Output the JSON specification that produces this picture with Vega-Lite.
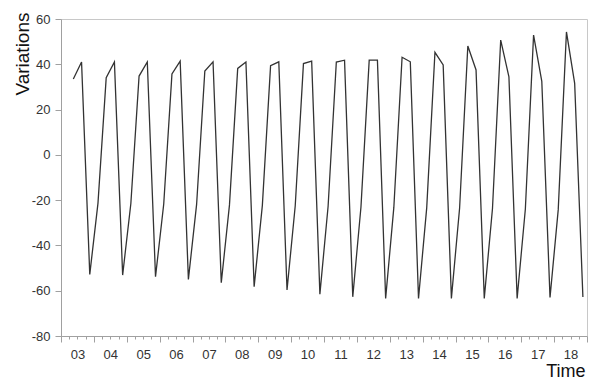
{
  "$schema": "https://vega.github.io/schema/vega-lite/v6.json",
  "width": 526,
  "height": 317,
  "autosize": "none",
  "padding": {"left": 61, "top": 19, "right": 5, "bottom": 43},
  "background": "white",
  "config": {
    "view": {"stroke": "#c8c8c8", "strokeWidth": 1},
    "font": "Liberation Sans"
  },
  "data": {
    "values": [
      {"t": 2003.375, "v": 33.5}, {"t": 2003.625, "v": 41.0}, {"t": 2003.875, "v": -52.8},
      {"t": 2004.125, "v": -21.3}, {"t": 2004.375, "v": 34.1}, {"t": 2004.625, "v": 41.0}, {"t": 2004.875, "v": -53.1},
      {"t": 2005.125, "v": -21.5}, {"t": 2005.375, "v": 34.8}, {"t": 2005.625, "v": 41.0}, {"t": 2005.875, "v": -53.8},
      {"t": 2006.125, "v": -21.7}, {"t": 2006.375, "v": 35.7}, {"t": 2006.625, "v": 41.4}, {"t": 2006.875, "v": -55.0},
      {"t": 2007.125, "v": -21.9}, {"t": 2007.375, "v": 37.0}, {"t": 2007.625, "v": 41.1}, {"t": 2007.875, "v": -56.5},
      {"t": 2008.125, "v": -22.1}, {"t": 2008.375, "v": 38.2}, {"t": 2008.625, "v": 41.0}, {"t": 2008.875, "v": -58.2},
      {"t": 2009.125, "v": -22.3}, {"t": 2009.375, "v": 39.4}, {"t": 2009.625, "v": 41.1}, {"t": 2009.875, "v": -59.7},
      {"t": 2010.125, "v": -22.5}, {"t": 2010.375, "v": 40.3}, {"t": 2010.625, "v": 41.4}, {"t": 2010.875, "v": -61.5},
      {"t": 2011.125, "v": -22.7}, {"t": 2011.375, "v": 41.0}, {"t": 2011.625, "v": 41.8}, {"t": 2011.875, "v": -62.7},
      {"t": 2012.125, "v": -22.9}, {"t": 2012.375, "v": 41.8}, {"t": 2012.625, "v": 41.8}, {"t": 2012.875, "v": -63.4},
      {"t": 2013.125, "v": -23.1}, {"t": 2013.375, "v": 43.1}, {"t": 2013.625, "v": 41.1}, {"t": 2013.875, "v": -63.4},
      {"t": 2014.125, "v": -23.3}, {"t": 2014.375, "v": 45.3}, {"t": 2014.625, "v": 39.7}, {"t": 2014.875, "v": -63.4},
      {"t": 2015.125, "v": -23.5}, {"t": 2015.375, "v": 48.1}, {"t": 2015.625, "v": 37.5}, {"t": 2015.875, "v": -63.4},
      {"t": 2016.125, "v": -23.7}, {"t": 2016.375, "v": 50.7}, {"t": 2016.625, "v": 34.5}, {"t": 2016.875, "v": -63.4},
      {"t": 2017.125, "v": -23.9}, {"t": 2017.375, "v": 52.9}, {"t": 2017.625, "v": 32.5}, {"t": 2017.875, "v": -63.0},
      {"t": 2018.125, "v": -24.2}, {"t": 2018.375, "v": 54.3}, {"t": 2018.625, "v": 31.6}, {"t": 2018.875, "v": -62.8}
    ]
  },
  "mark": {"type": "line", "color": "#333333", "strokeWidth": 1.3},
  "encoding": {
    "x": {
      "field": "t",
      "type": "quantitative",
      "scale": {"domain": [2003, 2019], "nice": false, "zero": false},
      "axis": {
        "values": [2003, 2003.25, 2003.5, 2003.75, 2004, 2004.25, 2004.5, 2004.75, 2005, 2005.25, 2005.5, 2005.75, 2006, 2006.25, 2006.5, 2006.75, 2007, 2007.25, 2007.5, 2007.75, 2008, 2008.25, 2008.5, 2008.75, 2009, 2009.25, 2009.5, 2009.75, 2010, 2010.25, 2010.5, 2010.75, 2011, 2011.25, 2011.5, 2011.75, 2012, 2012.25, 2012.5, 2012.75, 2013, 2013.25, 2013.5, 2013.75, 2014, 2014.25, 2014.5, 2014.75, 2015, 2015.25, 2015.5, 2015.75, 2016, 2016.25, 2016.5, 2016.75, 2017, 2017.25, 2017.5, 2017.75, 2018, 2018.25, 2018.5, 2018.75, 2019],
        "labelExpr": "(datum.value % 1 == 0 && datum.value < 2019) ? substring(toString(datum.value), 2, 4) : ''",
        "labelOffset": 16.44,
        "labelOverlap": false,
        "labelFlush": false,
        "labelFontSize": 13,
        "labelColor": "#333333",
        "labelPadding": 6,
        "grid": false,
        "domainColor": "#a0a0a0",
        "tickColor": "#a0a0a0",
        "tickSize": {"condition": {"test": "datum.value % 1 == 0", "value": 6}, "value": 3},
        "title": "Time",
        "titleFontSize": 18,
        "titleFontWeight": "normal",
        "titleColor": "#111111",
        "titleAnchor": "end",
        "titleAlign": "right",
        "titleBaseline": "alphabetic",
        "titleX": 524,
        "titleY": 40
      }
    },
    "y": {
      "field": "v",
      "type": "quantitative",
      "scale": {"domain": [-80, 60], "nice": false, "zero": false},
      "axis": {
        "values": [-80, -60, -40, -20, 0, 20, 40, 60],
        "labelExpr": "toString(datum.value)",
        "labelFontSize": 13,
        "labelColor": "#333333",
        "labelPadding": 5,
        "tickSize": 6,
        "grid": false,
        "domainColor": "#a0a0a0",
        "tickColor": "#a0a0a0",
        "title": "Variations",
        "titleFontSize": 19,
        "titleFontWeight": "normal",
        "titleColor": "#111111",
        "titleAngle": -90,
        "titleAlign": "right",
        "titleBaseline": "middle",
        "titleX": -39,
        "titleY": -7
      }
    }
  }
}
